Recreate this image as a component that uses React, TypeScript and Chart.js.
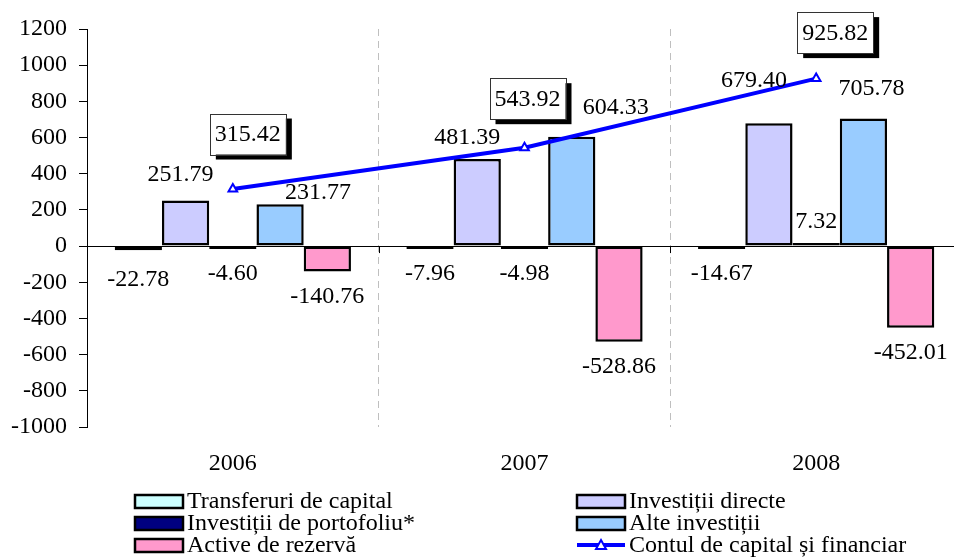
import { useEffect, useRef } from "react";
import { Chart, registerables } from "chart.js";

Chart.register(...registerables);

const years = ["2006", "2007", "2008"];
const transferuriCapital = [-22.78, -7.96, -14.67];
const investitiiDirecte = [251.79, 481.39, 679.4];
const investitiiPortofoliu = [-4.6, -4.98, 7.32];
const alteInvestitii = [231.77, 604.33, 705.78];
const activeRezerva = [-140.76, -528.86, -452.01];
const contulCapital = [315.42, 543.92, 925.82];

const yMin = -1000;
const yMax = 1200;
const yStep = 200;

const FONT = '"Liberation Serif", "Times New Roman", serif';

// label nudges (px) keyed "datasetIndex-pointIndex"
const labelNudges: Record<string, [number, number]> = {
  "1-0": [-5, 0],
  "3-0": [38, 15],
  "1-1": [-10, 5],
  "3-1": [44, -3],
  "1-2": [-15, -16],
  "3-2": [8, -4],
  "2-2": [0, 5],
  "0-0": [0, 4],
  "5-0": [3, -5],
  "5-1": [-9, 1],
  "5-2": [7, 4],
};

const legendItems = [
  { label: "Transferuri de capital", color: "#CCFFFF", kind: "box" },
  { label: "Investiții directe", color: "#CCCCFF", kind: "box" },
  { label: "Investiții de portofoliu*", color: "#000080", kind: "box" },
  { label: "Alte investiții", color: "#99CCFF", kind: "box" },
  { label: "Active de rezervă", color: "#FF99CC", kind: "box" },
  { label: "Contul de capital și financiar", color: "#0000FF", kind: "line" },
];

const valueLabelsPlugin = {
  id: "valueLabels",
  afterDatasetsDraw(chart: any) {
    const ctx = chart.ctx;
    ctx.save();
    ctx.font = `24px ${FONT}`;
    ctx.textAlign = "center";
    ctx.textBaseline = "middle";
    chart.data.datasets.forEach((ds: any, di: number) => {
      const meta = chart.getDatasetMeta(di);
      meta.data.forEach((el: any, i: number) => {
        const v = ds.data[i] as number;
        const [nx, ny] = labelNudges[`${di}-${i}`] || [0, 0];
        const text = v.toFixed(2);
        if (ds.type === "line") {
          const cx = el.x + 12 + nx;
          const cy = el.y - 50 + ny;
          const w = ctx.measureText(text).width + 10;
          const h = 41;
          ctx.fillStyle = "#000";
          ctx.fillRect(cx - w / 2 + 6, cy - h / 2 + 5, w, h);
          ctx.fillStyle = "#fff";
          ctx.fillRect(cx - w / 2, cy - h / 2, w, h);
          ctx.strokeStyle = "#333";
          ctx.lineWidth = 1;
          ctx.strokeRect(Math.round(cx - w / 2) + 0.5, Math.round(cy - h / 2) + 0.5, Math.round(w), h);
          ctx.fillStyle = "#000";
          ctx.fillText(text, cx, cy + 1);
        } else {
          const cy = v >= 0 ? el.y - 26 : el.y + 25;
          ctx.fillStyle = "#000";
          ctx.fillText(text, el.x + nx, cy + ny);
        }
      });
    });
    ctx.restore();
  },
};

const extrasPlugin = {
  id: "extras",
  afterDraw(chart: any) {
    const ctx = chart.ctx;
    const xs = chart.scales.x;
    const ys = chart.scales.y;
    const zeroY = ys.getPixelForValue(0);
    ctx.save();
    // small ticks on the zero line at category boundaries
    ctx.strokeStyle = "#000";
    ctx.lineWidth = 1;
    for (let i = 1; i < years.length; i++) {
      const bx = Math.round((xs.getPixelForValue(i - 1) + xs.getPixelForValue(i)) / 2) + 0.5;
      ctx.beginPath();
      ctx.moveTo(bx, zeroY);
      ctx.lineTo(bx, zeroY + 7);
      ctx.stroke();
    }
    // legend
    const colX = [135, 577];
    const rowY = [501, 523, 545];
    ctx.font = `24px ${FONT}`;
    ctx.textAlign = "left";
    ctx.textBaseline = "middle";
    legendItems.forEach((it, k) => {
      const x = colX[k % 2];
      const y = rowY[Math.floor(k / 2)];
      if (it.kind === "box") {
        ctx.fillStyle = it.color;
        ctx.fillRect(x, y - 6, 48, 13);
        ctx.strokeStyle = "#000";
        ctx.lineWidth = 2.5;
        ctx.strokeRect(x, y - 6, 48, 13);
      } else {
        ctx.strokeStyle = it.color;
        ctx.lineWidth = 4;
        ctx.beginPath();
        ctx.moveTo(x, y);
        ctx.lineTo(x + 48, y);
        ctx.stroke();
        ctx.fillStyle = "#fff";
        ctx.lineWidth = 2;
        ctx.beginPath();
        ctx.moveTo(x + 24, y - 5);
        ctx.lineTo(x + 29, y + 4);
        ctx.lineTo(x + 19, y + 4);
        ctx.closePath();
        ctx.fill();
        ctx.stroke();
      }
      ctx.fillStyle = "#000";
      ctx.fillText(it.label, x + 52, y + 1);
    });
    ctx.restore();
  },
};

export default function App() {
  const canvasRef = useRef<HTMLCanvasElement | null>(null);

  useEffect(() => {
    if (!canvasRef.current) return;
    const barBase = { borderColor: "#000", borderWidth: 2.5, borderSkipped: false, minBarLength: 3, order: 1 };
    const chart = new Chart(canvasRef.current, {
      type: "bar",
      data: {
        labels: years,
        datasets: [
          { ...barBase, type: "bar", label: "Transferuri de capital", data: transferuriCapital, backgroundColor: "#CCFFFF" },
          { ...barBase, type: "bar", label: "Investiții directe", data: investitiiDirecte, backgroundColor: "#CCCCFF" },
          { ...barBase, type: "bar", label: "Investiții de portofoliu*", data: investitiiPortofoliu, backgroundColor: "#000080" },
          { ...barBase, type: "bar", label: "Alte investiții", data: alteInvestitii, backgroundColor: "#99CCFF" },
          { ...barBase, type: "bar", label: "Active de rezervă", data: activeRezerva, backgroundColor: "#FF99CC" },
          {
            type: "line",
            label: "Contul de capital și financiar",
            data: contulCapital,
            borderColor: "#0000FF",
            borderWidth: 4,
            pointStyle: "triangle",
            pointRadius: 5,
            pointBackgroundColor: "#fff",
            pointBorderColor: "#0000FF",
            pointBorderWidth: 2,
            tension: 0,
            order: 0,
          } as any,
        ],
      },
      options: {
        responsive: false,
        animation: false,
        datasets: {
          bar: { categoryPercentage: 0.81, barPercentage: 1 },
        },
        layout: { padding: { left: 0, top: 29, right: 18, bottom: 0 } },
        plugins: {
          legend: { display: false },
          tooltip: { enabled: false },
        },
        scales: {
          x: {
            offset: true,
            grid: {
              offset: true,
              drawTicks: false,
              color: (c: any) => (c.index === 0 ? "rgba(0,0,0,0)" : "#BFBFBF"),
              lineWidth: 1,
            },
            border: { display: false, dash: [7, 5] },
            ticks: { color: "#000", font: { family: FONT, size: 24 }, padding: 22 },
            afterFit: (s: any) => {
              s.height = 130;
            },
          },
          y: {
            min: yMin,
            max: yMax,
            ticks: {
              stepSize: yStep,
              color: "#000",
              font: { family: FONT, size: 24 },
              padding: 12,
              callback: (v: any) => String(v),
            },
            grid: {
              color: (c: any) => (c.tick && c.tick.value === 0 ? "#000" : "rgba(0,0,0,0)"),
              tickColor: "#000",
              tickLength: 8,
              lineWidth: 1,
            },
            border: { display: true, color: "#000", width: 1 },
            afterFit: (s: any) => {
              s.width = 87;
            },
          },
        },
      },
      plugins: [valueLabelsPlugin, extrasPlugin],
    } as any);
    return () => chart.destroy();
  }, []);

  return (
    <div style={{ position: "fixed", left: 0, top: 0, width: 954, height: 557, overflow: "hidden", background: "#fff" }}>
      <canvas ref={canvasRef} width={980} height={557} style={{ width: 980, height: 557, display: "block" }} />
    </div>
  );
}
